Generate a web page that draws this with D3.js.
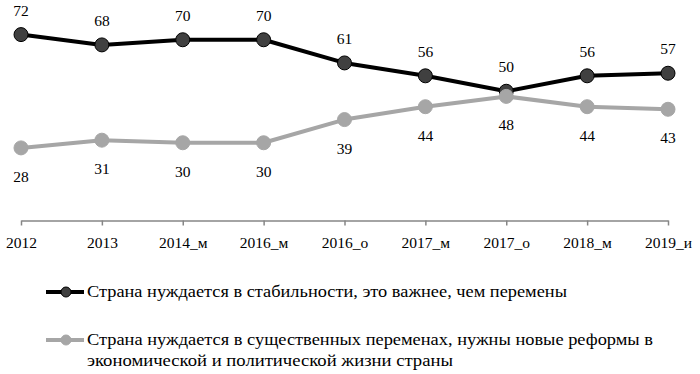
<!doctype html>
<html lang="ru">
<head>
  <meta charset="UTF-8">
  <title>Стабильность или перемены</title>
  <script src="https://cdn.jsdelivr.net/npm/d3@7"></script>
</head>
<body style="margin:0; background:#fff">
<div id="container"></div>
<script type="text/javascript">
var periods = ['2012', '2013', '2014_м', '2016_м', '2016_о', '2017_м', '2017_о', '2018_м', '2019_и'];
var stability = [72, 68, 70, 70, 61, 56, 50, 56, 57];
var changes = [28, 31, 30, 30, 39, 44, 48, 44, 43];
var legendStability = ['Страна нуждается в стабильности, это важнее, чем перемены'];
var legendChanges = ['Страна нуждается в существенных переменах, нужны новые реформы в',
                     'экономической и политической жизни страны'];

var font = '"Liberation Serif", "Times New Roman", serif';

var svg = d3.select('#container').append('svg')
  .attr('width', 700)
  .attr('height', 374)
  .style('font-family', font);

var x = d3.scalePoint().domain(periods).range([21, 668]);
var y = d3.scaleLinear().domain([0, 80]).range([220, 14]);

// x axis
var axis = svg.append('g')
  .attr('transform', 'translate(0,220.5)')
  .call(d3.axisBottom(x).tickSize(5).tickSizeOuter(0).tickPadding(11));
axis.select('.domain').attr('stroke', '#868686').attr('stroke-width', 1.5);
axis.selectAll('.tick line').attr('stroke', '#868686').attr('stroke-width', 1.5);
axis.selectAll('.tick text')
  .attr('fill', '#000')
  .style('font-family', font)
  .style('font-size', '15.5px');

var series = [
  { values: stability, line: '#000000', fill: '#404040', stroke: '#000000', above: true },
  { values: changes, line: '#a6a6a6', fill: '#a6a6a6', stroke: '#a6a6a6', above: false }
];

var line = d3.line()
  .x(function(d, i) { return x(periods[i]); })
  .y(function(d) { return y(d); });

series.forEach(function(s) {
  svg.append('path')
    .datum(s.values)
    .attr('d', line)
    .attr('fill', 'none')
    .attr('stroke', s.line)
    .attr('stroke-width', 4)
    .attr('stroke-linejoin', 'round');
});

series.forEach(function(s) {
  svg.selectAll(null).data(s.values).enter()
    .append('circle')
    .attr('cx', function(d, i) { return x(periods[i]); })
    .attr('cy', function(d) { return y(d); })
    .attr('r', 7)
    .attr('fill', s.fill)
    .attr('stroke', s.stroke)
    .attr('stroke-width', 1);

  svg.selectAll(null).data(s.values).enter()
    .append('text')
    .attr('x', function(d, i) { return x(periods[i]); })
    .attr('y', function(d) { return y(d) + (s.above ? -19 : 34); })
    .attr('text-anchor', 'middle')
    .style('font-size', '15.5px')
    .attr('fill', '#000')
    .text(function(d) { return d; });
});

// legend
function legendMarker(yy, s) {
  svg.append('line')
    .attr('x1', 46).attr('x2', 84).attr('y1', yy).attr('y2', yy)
    .attr('stroke', s.line).attr('stroke-width', 4);
  svg.append('circle')
    .attr('cx', 66).attr('cy', yy).attr('r', 5)
    .attr('fill', s.fill).attr('stroke', s.stroke).attr('stroke-width', 1);
}

legendMarker(292, series[0]);
legendMarker(340, series[1]);

var legendLines = [
  { text: legendStability[0], y: 297, width: 480 },
  { text: legendChanges[0], y: 345, width: 566 },
  { text: legendChanges[1], y: 366, width: 366 }
];

svg.selectAll('.legend-text').data(legendLines).enter()
  .append('text')
  .attr('class', 'legend-text')
  .attr('x', 87)
  .attr('y', function(d) { return d.y; })
  .attr('textLength', function(d) { return d.width; })
  .attr('lengthAdjust', 'spacingAndGlyphs')
  .style('font-size', '16px')
  .attr('fill', '#000')
  .text(function(d) { return d.text; });
</script>
</body>
</html>
